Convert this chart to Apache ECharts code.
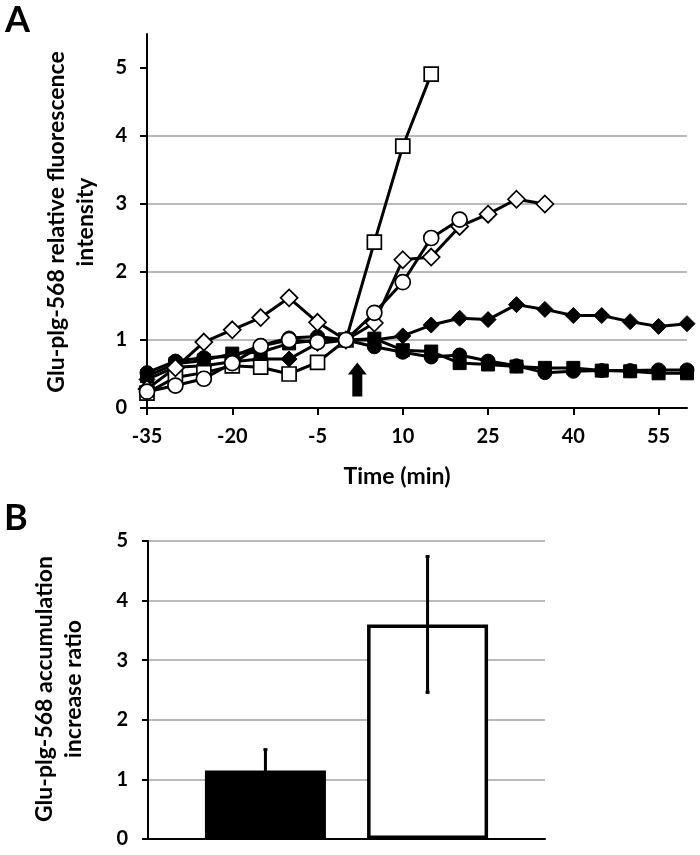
<!DOCTYPE html>
<html>
<head>
<meta charset="utf-8">
<script src="https://cdn.jsdelivr.net/npm/echarts@6/dist/echarts.min.js"></script>
<style>html,body{margin:0;padding:0;background:#fff}#c{width:700px;height:855px}</style>
</head>
<body>
<div id="c"></div>
<script>
// ---- Panel A data (time in min, relative fluorescence intensity) ----
const times = [-35,-30,-25,-20,-15,-10,-5,0,5,10,15,20,25,30,35,40,45,50,55,60];
const xTickLabels = [-35,-20,-5,10,25,40,55];
const yTicksA = [0,1,2,3,4,5];
const openSquare  = [0.22,0.45,0.52,0.62,0.60,0.50,0.67,1.00,2.44,3.85,4.91];
const openDiamond = [0.28,0.59,0.97,1.15,1.33,1.62,1.26,1.00,1.25,2.18,2.22,2.67,2.85,3.07,3.00];
const openCircle  = [0.24,0.33,0.43,0.66,0.91,1.00,0.97,1.00,1.40,1.85,2.50,2.77];
const filledDiamond = [0.42,0.60,0.62,0.68,0.72,0.72,0.95,1.00,1.00,1.06,1.22,1.32,1.30,1.52,1.45,1.36,1.36,1.27,1.20,1.24];
const filledSquare  = [0.47,0.65,0.70,0.80,0.82,0.95,1.00,1.00,1.02,0.85,0.83,0.66,0.64,0.61,0.59,0.59,0.55,0.54,0.51,0.51];
const filledCircle  = [0.52,0.69,0.74,0.76,0.92,1.03,1.05,1.00,0.90,0.82,0.75,0.78,0.69,0.62,0.52,0.54,0.55,0.55,0.56,0.56];
const arrowTime = 2;
const arrowLevel = 0.42;

// ---- Panel B data ----
const barCategories = [''];
const barMeans = [1.15, 3.60];
const barErrors = [0.35, 1.14];
const yTicksB = [0,1,2,3,4,5];

const FONT = 'Lato, "Open Sans", sans-serif';
const GRID_COLOR = '#a3a3a3';

function pairs(arr){ return arr.map((v,i)=>[times[i], v]); }

function lineSeries(name, arr, symbol, size, filled){
  return {
    name, type:'line', xAxisIndex:0, yAxisIndex:0,
    data: pairs(arr),
    symbol, symbolSize: size, showAllSymbol: true,
    lineStyle:{color:'#000', width:3},
    itemStyle:{color: filled ? '#000' : '#fff', borderColor:'#000', borderWidth: filled ? 1 : 1.7, opacity:1},
    emphasis:{disabled:true},
    animation:false
  };
}

const BAR_W = 121, BAR_GAP = '34%';

const chart = echarts.init(document.getElementById('c'), null, {renderer:'canvas'});
chart.setOption({
  animation:false,
  backgroundColor:'#fff',
  textStyle:{fontFamily:FONT},
  grid:[
    {left:147, right:13, top:34, bottom:447},
    {left:148, right:155, top:541, bottom:16}
  ],
  xAxis:[
    {
      type:'value', gridIndex:0, min:-35, max:60,
      axisLine:{show:true, onZero:false, lineStyle:{color:'#000', width:2}},
      axisTick:{show:true, customValues:xTickLabels, length:7, lineStyle:{color:'#000', width:2}},
      axisLabel:{customValues:xTickLabels, color:'#000', fontFamily:FONT, fontWeight:'bold', fontSize:20, margin:19},
      splitLine:{show:false},
      name:'Time (min)', nameLocation:'middle', nameGap:57,
      nameTextStyle:{color:'#000', fontFamily:FONT, fontWeight:'bold', fontSize:23, padding:[0,40,0,0]}
    },
    {
      type:'category', gridIndex:1, data:barCategories,
      axisLine:{show:true, lineStyle:{color:'#000', width:2}},
      axisTick:{show:false}, axisLabel:{show:false}, splitLine:{show:false}
    }
  ],
  yAxis:[
    {
      type:'value', gridIndex:0, min:0, max:5.5, interval:1,
      axisLine:{show:true, onZero:false, lineStyle:{color:'#000', width:2}},
      axisTick:{show:true, customValues:yTicksA, length:7, lineStyle:{color:'#000', width:2}},
      axisLabel:{customValues:yTicksA, color:'#000', fontFamily:FONT, fontWeight:'bold', fontSize:20, margin:20},
      splitLine:{show:true, showMinLine:false, showMaxLine:false, lineStyle:{color:GRID_COLOR, width:1.5}}
    },
    {
      type:'value', gridIndex:1, min:0, max:5, interval:1,
      axisLine:{show:true, onZero:false, lineStyle:{color:'#000', width:2}},
      axisTick:{show:true, customValues:yTicksB, length:6, lineStyle:{color:'#000', width:2}},
      axisLabel:{customValues:yTicksB, color:'#000', fontFamily:FONT, fontWeight:'bold', fontSize:20, margin:20},
      splitLine:{show:true, showMinLine:false, lineStyle:{color:GRID_COLOR, width:1.5}}
    }
  ],
  series:[
    lineSeries('filled diamond', filledDiamond, 'diamond', 16, true),
    lineSeries('filled square', filledSquare, 'rect', 13, true),
    lineSeries('filled circle', filledCircle, 'circle', 14, true),
    lineSeries('open square', openSquare, 'rect', 14, false),
    lineSeries('open diamond', openDiamond, 'diamond', 17, false),
    lineSeries('open circle', openCircle, 'circle', 15, false),
    {
      name:'arrow', type:'scatter', xAxisIndex:0, yAxisIndex:0,
      data:[[arrowTime, arrowLevel]],
      symbol:'path://M9.5,0 L19,12 L14.5,12 L14.5,34 L4.5,34 L4.5,12 L0,12 Z',
      symbolSize:[19,34], symbolKeepAspect:false,
      itemStyle:{color:'#000', opacity:1}, emphasis:{disabled:true}, z:5
    },
    {
      name:'filled bar', type:'bar', xAxisIndex:1, yAxisIndex:1,
      data:[barMeans[0]], barWidth:BAR_W, barGap:BAR_GAP,
      itemStyle:{color:'#000', borderColor:'#000', borderWidth:0},
      emphasis:{disabled:true}
    },
    {
      name:'open bar', type:'bar', xAxisIndex:1, yAxisIndex:1,
      data:[barMeans[1]], barWidth:BAR_W, barGap:BAR_GAP,
      itemStyle:{color:'#fff', borderColor:'#000', borderWidth:3.5},
      emphasis:{disabled:true}
    },
    {
      name:'error', type:'custom', xAxisIndex:1, yAxisIndex:1,
      data: barMeans.map((m,i)=>[0, i, m - barErrors[i], m + barErrors[i]]),
      encode:{x:0, y:[2,3]},
      z:10,
      renderItem:function(params, api){
        const idx = api.value(1);
        let off;
        if (api.barLayout) {
          const lay = api.barLayout({count:2, barWidth:BAR_W, barGap:BAR_GAP});
          off = lay[idx].offsetCenter;
        } else {
          off = (idx - 0.5) * (BAR_W * 1.34);
        }
        const lo = api.coord([api.value(0), api.value(2)]);
        const hi = api.coord([api.value(0), api.value(3)]);
        const x = lo[0] + off;
        const st = {stroke:'#000', lineWidth:3};
        return {type:'group', children:[
          {type:'line', shape:{x1:x, y1:lo[1], x2:x, y2:hi[1]}, style:st},
          {type:'line', shape:{x1:x-2, y1:hi[1], x2:x+2, y2:hi[1]}, style:st},
          {type:'line', shape:{x1:x-2, y1:lo[1], x2:x+2, y2:lo[1]}, style:st}
        ]};
      }
    }
  ],
  graphic:[
    {type:'text', left:5, top:2, style:{text:'A', font:'bold 36px '+FONT, fill:'#000'}},
    {type:'text', left:4, top:500, style:{text:'B', font:'bold 36px '+FONT, fill:'#000'}},
    {type:'text', x:71, y:222, rotation:Math.PI/2,
      style:{text:'Glu-plg-568 relative fluorescence\nintensity', font:'bold 23px '+FONT, fill:'#000', align:'center', verticalAlign:'middle', lineHeight:29}},
    {type:'text', x:59, y:689, rotation:Math.PI/2,
      style:{text:'Glu-plg-568 accumulation\nincrease ratio', font:'bold 23px '+FONT, fill:'#000', align:'center', verticalAlign:'middle', lineHeight:29}}
  ]
});
</script>
</body>
</html>
